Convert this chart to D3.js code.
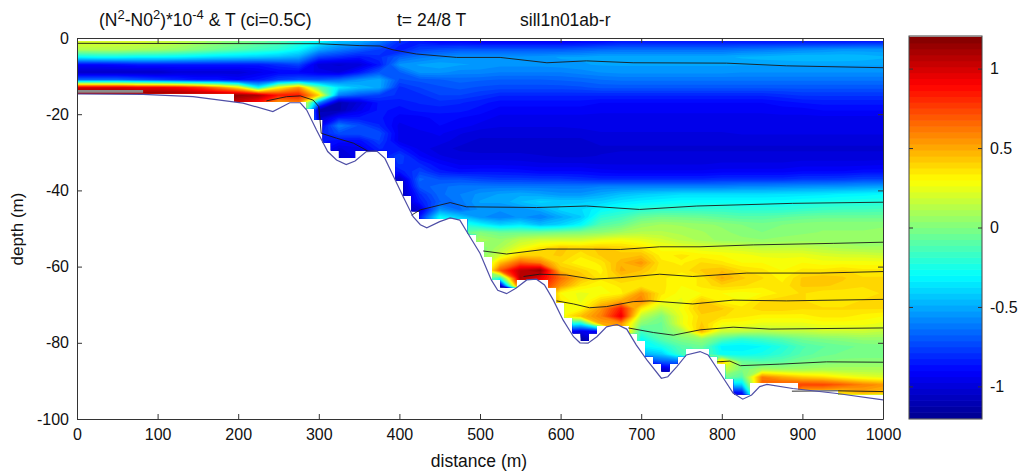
<!DOCTYPE html>
<html>
<head>
<meta charset="utf-8">
<script src="https://cdn.jsdelivr.net/npm/d3@7"></script>
<style>
  body { margin: 0; background: #fff; }
  text { font-family: "Liberation Sans", Arial, sans-serif; fill: #111; }
</style>
</head>
<body>
<svg id="chart" width="1023" height="476"></svg>
<script>
// Field values, one list per distance (every 25 m), depth 1, 3, 5 ... m downward
const distances = d3.range(0, 1001, 25);
const depths = d3.range(1, 97, 2);
const fieldColumns = [
  [.22,.12,-.3,-.9,-1.05,-.65,1,1.2],
  [.22,.12,-.28,-.9,-1.05,-.65,1,1.2],
  [.2,.12,-.28,-.88,-1.05,-.65,1,1.2],
  [.2,.1,-.3,-.85,-1.05,-.7,.95,1.2],
  [.18,.08,-.3,-.85,-1.05,-.75,.95,1.2],
  [.15,.05,-.32,-.85,-1,-.8,.9,1.18],
  [.1,0,-.35,-.85,-1,-.85,.8,1.15],
  [.05,-.05,-.38,-.85,-1,-.85,.6,1.15],
  [0,-.1,-.4,-.85,-1,-.9,.35,1.15,1],
  [-.05,-.15,-.42,-.85,-.95,-.85,-.3,1.1,.85],
  [-.1,-.2,-.45,-.8,-.9,-.75,.3,.85,.5],
  [-.2,-.3,-.5,-.75,-.9,-.7,.55,.85,.6],
  [-.3,-.5,-.75,-1,-.95,-.7,-.05,.4,-.6,-1.1,-1.05,-.95,-.85],
  [-.45,-.6,-.8,-1.02,-.98,-.65,-.35,-.6,-1.1,-1.1,-.85,-.6,-.72,-.88,-.98,-1.02],
  [-.5,-.68,-.85,-1,-.85,-.55,-.45,-.7,-1,-.95,-.85,-.72,-.72,-.88,-.95],
  [-.6,-.75,-.8,-.85,-.7,-.5,-.5,-.75,-.85,-.85,-.85,-.82,-.72,-.75,-.82,-.88],
  [-.8,-.85,-.68,-.55,-.68,-.72,-.8,-.8,-.85,-.88,-.92,-.95,-.95,-.95,-.85,-.75,-.78,-.85,-1.05,-1.1,-1.1],
  [-.85,-.75,-.62,-.52,-.55,-.7,-.75,-.8,-.82,-.85,-.92,-.92,-.95,-.95,-.95,-.9,-.82,-.75,-.66,-.7,-.8,-.85,-1,-.85,-.9],
  [-.9,-.72,-.58,-.5,-.55,-.68,-.72,-.75,-.8,-.85,-.88,-.9,-.93,-.95,-1,-.97,-.9,-.85,-.72,-.65,-.65,-.68,-.55,-.3],
  [-.9,-.7,-.55,-.52,-.58,-.66,-.7,-.75,-.82,-.85,-.9,-.92,-.97,-1,-1.02,-1,-.95,-.88,-.72,-.62,-.6,-.62,-.65,-.42,-.2,-.1],
  [-.92,-.7,-.55,-.53,-.58,-.67,-.72,-.78,-.85,-.88,-.92,-.95,-1,-1.02,-1.03,-1,-.95,-.87,-.75,-.62,-.55,-.52,-.55,-.55,-.3,0,.1,0],
  [-.92,-.7,-.55,-.55,-.6,-.68,-.73,-.82,-.88,-.92,-.95,-.97,-1,-1.02,-1.03,-1,-.95,-.87,-.77,-.62,-.52,-.52,-.55,-.6,-.4,-.05,.05,.1,.2,.45,.7,-.2,-1.1],
  [-.92,-.7,-.55,-.55,-.6,-.68,-.73,-.82,-.88,-.92,-.95,-.97,-1,-1.02,-1.03,-1,-.96,-.88,-.77,-.62,-.5,-.45,-.55,-.55,-.35,-.05,.15,.25,.4,.7,1.05,1.1,.9,-1.1],
  [-.92,-.7,-.54,-.55,-.6,-.68,-.73,-.82,-.88,-.92,-.95,-.97,-1,-1.02,-1.03,-1.01,-.97,-.9,-.78,-.62,-.52,-.4,-.5,-.6,-.45,-.05,.2,.35,.4,.6,1.15,.95,.85],
  [-.92,-.7,-.52,-.54,-.6,-.67,-.73,-.82,-.88,-.92,-.95,-.97,-1,-1.02,-1.03,-1.02,-.97,-.9,-.78,-.62,-.55,-.42,-.4,-.5,-.4,-.02,.2,.42,.42,.38,.45,.65,.55,.3,.35,.3,.3,-.2,-.85],
  [-.9,-.68,-.52,-.53,-.58,-.66,-.72,-.82,-.88,-.92,-.95,-.96,-1,-1.02,-1.03,-1.02,-.97,-.9,-.8,-.62,-.55,-.42,-.38,-.42,-.3,0,.2,.4,.35,.3,.4,.45,.35,.25,.25,.3,.45,-.3,-.95,-1.15],
  [-.88,-.66,-.5,-.52,-.56,-.64,-.7,-.82,-.9,-.93,-.95,-.95,-.98,-1,-1.02,-1.01,-.98,-.92,-.82,-.6,-.5,-.4,-.3,-.2,-.1,.03,.25,.42,.42,.35,.32,.35,.3,.28,.4,.55,.6,.5,-.9],
  [-.85,-.65,-.5,-.52,-.55,-.63,-.7,-.82,-.9,-.93,-.95,-.95,-.98,-1,-1.02,-1,-.98,-.93,-.82,-.6,-.45,-.35,-.25,-.15,-.05,.08,.28,.4,.42,.48,.5,.42,.35,.32,.5,.85,.95,.55],
  [-.85,-.65,-.5,-.52,-.55,-.63,-.7,-.82,-.9,-.93,-.95,-.95,-.98,-1,-1.02,-1,-.98,-.93,-.82,-.6,-.42,-.32,-.2,-.06,.05,.12,.25,.35,.45,.55,.45,.38,.35,.55,.6,.35,.15,.02,-.15,-.28,-.32,-.5,-.85,-.95],
  [-.85,-.65,-.5,-.52,-.55,-.63,-.7,-.82,-.9,-.93,-.95,-.95,-.98,-1,-1.02,-1,-.98,-.93,-.82,-.6,-.4,-.3,-.18,-.03,.08,.12,.2,.28,.32,.35,.35,.35,.35,.35,.3,.15,0,-.05,-.05,-.1,-.25,-.42,-.7,-1.05,-1.15],
  [-.85,-.65,-.5,-.52,-.55,-.63,-.7,-.82,-.9,-.93,-.95,-.95,-.98,-1,-1.02,-1,-.98,-.93,-.82,-.6,-.38,-.28,-.18,-.04,.07,.1,.14,.25,.35,.33,.35,.3,.3,.28,.25,.28,.25,.25,.1,0,-.1,-.15,-.65,-.9],
  [-.85,-.65,-.5,-.52,-.55,-.63,-.7,-.82,-.9,-.93,-.95,-.95,-.98,-1,-1.02,-1,-.98,-.93,-.82,-.6,-.38,-.28,-.18,-.05,.05,.08,.1,.22,.32,.38,.42,.35,.35,.3,.42,.45,.4,.42,.48,.05,-.05],
  [-.85,-.65,-.5,-.52,-.55,-.63,-.7,-.82,-.9,-.93,-.95,-.95,-.98,-1,-1.02,-1,-.97,-.92,-.8,-.6,-.38,-.28,-.18,-.08,.03,.05,.06,.2,.3,.35,.45,.5,.4,.3,.32,.42,.38,.28,.18,-.1,-.32,-.28,.45,.2,0,-.4,-.9],
  [-.85,-.63,-.48,-.52,-.56,-.63,-.7,-.82,-.9,-.93,-.95,-.95,-.97,-1,-1.02,-1,-.97,-.92,-.8,-.58,-.38,-.28,-.2,-.1,0,.02,.05,.18,.28,.3,.38,.42,.38,.28,.3,.35,.35,.28,.15,-.2,-.33,-.28,-.05,0,-.1,-.4,-.85,-1.1],
  [-.85,-.62,-.47,-.52,-.56,-.63,-.7,-.82,-.9,-.93,-.95,-.95,-.97,-1,-1.02,-1,-.97,-.92,-.8,-.58,-.38,-.28,-.2,-.1,-.02,0,.04,.15,.25,.3,.35,.38,.35,.3,.38,.4,.32,.25,.12,-.15,-.3,-.25,-.1,.1,.6,.7],
  [-.85,-.6,-.46,-.52,-.56,-.63,-.7,-.8,-.88,-.92,-.95,-.95,-.97,-1,-1.02,-1,-.97,-.92,-.8,-.57,-.37,-.28,-.2,-.08,0,.02,.05,.15,.25,.28,.3,.32,.35,.35,.4,.4,.32,.25,.15,-.1,-.22,-.18,-.08,.08,.5,.72],
  [-.85,-.58,-.45,-.52,-.56,-.63,-.7,-.78,-.86,-.92,-.95,-.95,-.97,-1,-1.02,-1,-.96,-.9,-.78,-.56,-.36,-.26,-.18,-.06,.02,.03,.06,.15,.25,.3,.35,.42,.42,.38,.38,.38,.32,.25,.15,-.03,-.12,-.1,-.02,.08,.42,.75,.45],
  [-.85,-.57,-.45,-.52,-.56,-.63,-.7,-.78,-.85,-.9,-.95,-.95,-.97,-1,-1.02,-1,-.96,-.9,-.78,-.55,-.35,-.25,-.16,-.05,.03,.04,.06,.12,.22,.28,.35,.45,.42,.35,.35,.38,.35,.28,.18,0,-.08,-.05,0,.1,.38,.75,.45],
  [-.85,-.55,-.45,-.52,-.56,-.63,-.7,-.78,-.85,-.9,-.95,-.95,-.97,-1,-1.02,-1,-.96,-.9,-.77,-.55,-.33,-.24,-.15,-.05,.03,.04,.05,.1,.2,.28,.38,.42,.4,.35,.35,.38,.35,.28,.18,.02,-.05,-.03,.02,.1,.3,.68,.4],
  [-.83,-.55,-.46,-.52,-.56,-.63,-.7,-.78,-.85,-.9,-.95,-.95,-.97,-1,-1.02,-1,-.96,-.88,-.75,-.53,-.32,-.23,-.15,-.05,.03,.04,.04,.08,.2,.28,.35,.38,.38,.35,.38,.38,.32,.28,.18,.05,-.03,-.02,.02,.1,.25,.6,.5,.2],
  [-.83,-.55,-.48,-.52,-.56,-.63,-.7,-.78,-.85,-.9,-.95,-.95,-.97,-1,-1.02,-1,-.95,-.88,-.75,-.52,-.3,-.23,-.14,-.05,.03,.05,.05,.08,.18,.28,.35,.38,.4,.38,.4,.38,.3,.25,.15,.05,-.02,-.02,.02,.1,.22,.55,.45,.1]
];

// Sea bed, distance and depth
const bedDistance = [0,82,144,206,243,264,277,285,297,311,322,334,345,359,372,382,392,405,417,426,434,450,463,475,485,500,514,522,533,545,558,570,580,591,603,616,624,634,645,657,670,682,694,707,725,733,744,756,773,783,798,814,826,837,847,856,888,943,1000];
const bedDepth = [14.7,14.8,15.4,17.1,19.3,17,17,18.9,24.1,29.8,32,33.2,32.3,29.8,29.7,31.6,36,41.8,46.9,49,49.8,48.2,47.2,47.8,51.3,56.5,63.5,66.2,67.1,65.6,63.5,63.3,64.8,68.8,74,78.4,80,80.1,78.4,75.8,75.2,76.4,80.6,84.5,89.3,88.9,86.3,83.2,82.3,83.2,88,93.2,94.8,93.7,91.5,90.9,92,93.3,95];

// Bottom faces of the model cells, and their edges in m
const cellFaces = [14.5,16.8,18.5,21.5,23.5,25.5,27.5,29.5,31.5,33.5,35.5,37.5,39.5,41.5,43.5,45.5,47.5,49.5,51.5,53.5,55.5,57.5,59.5,61.5,63.5,65.5,67.5,69.5,71.5,73.5,75.5,77.5,79.5,81.5,83.5,85.5,87.5,89.5,90.5,92.3,93.5,95.5];
const cellEdges = d3.range(-5, 1006, 10);
const shelfEnd = 283;
const shelfFace = 16.8;

// Isotherms as [distance, depth]
const isotherms = [
  [[0,1.4],[299,1.5],[351,2],[376,2.1],[392,3.1],[421,4.2],[471,5.1],[525,5.1],[583,6.5],[632,6],[690,6.5],[806,6.6],[880,7.3],[1000,7.8]],
  [[235,16.5],[260,15.4],[277,15.2],[293,16.3],[300,18],[303,25],[322,26.3],[343,27.6],[361,29.7],[372,29.7]],
  [[415,46.5],[426,45.1],[463,43.2],[483,44.3],[570,44.5],[632,44.1],[698,45],[769,44.1],[888,43.4],[1000,43.1]],
  [[504,55.9],[533,56.7],[583,55.4],[624,55.4],[674,55.5],[723,54.8],[773,54.8],[839,54.3],[939,53.9],[1000,53.6]],
  [[554,62.6],[574,62],[607,62.2],[640,63.3],[674,62.9],[723,62],[764,62.6],[831,61.7],[922,61.7],[1000,61.3]],
  [[595,69],[616,69.8],[636,70.8],[657,70.5],[690,69.2],[711,69],[764,69.8],[814,68.8],[880,69],[1000,68.6]],
  [[684,76.1],[715,77.3],[740,78],[773,76.6],[814,75.9],[860,76.4],[1000,76.1]],
  [[794,85],[810,84.8],[823,86],[872,85.6],[930,85],[1000,85.1]],
  [[887,92.7],[943,92.6],[1000,92.8]]
];
const shelfStrip = [[0,14],[82,14]];

const xTicks = d3.range(0, 1001, 100);
const yTicks = d3.range(0, -101, -20);
const barTicks = [-1, -0.5, 0, 0.5, 1];

const svg = d3.select('#chart');
const plot = { left: 77, right: 883, top: 38, bottom: 419 };
const bar = { left: 909, right: 982, top: 36, bottom: 419 };

const x = d3.scaleLinear().domain([0, 1000]).range([plot.left, plot.right]);
const y = d3.scaleLinear().domain([0, 100]).range([plot.top, plot.bottom]);
const yAxisScale = d3.scaleLinear().domain([0, -100]).range([plot.top, plot.bottom]);
const barY = d3.scaleLinear().domain([-1.205, 1.205]).range([bar.bottom, bar.top]);

// Jet colormap in 64 steps
const jet = d3.scaleLinear()
  .domain([0, 1 / 8, 3 / 8, 5 / 8, 7 / 8, 1])
  .range(['#00008f', '#0000ff', '#00ffff', '#ffff00', '#ff0000', '#800000'])
  .interpolate(d3.interpolateRgb);
const colorLevels = d3.range(64);
const levelValue = d3.scaleLinear().domain([0, 64]).range([-1.2, 1.2]);
const levelColor = i => jet((i + 0.5) / 64);

// Flatten to a full grid, below the bed each column keeps its last value
const gridValues = [];
depths.forEach((_, j) => {
  fieldColumns.forEach(col => {
    gridValues.push(j < col.length ? col[j] : col[col.length - 1]);
  });
});

const contours = d3.contours()
  .size([distances.length, depths.length])
  .smooth(true)
  .thresholds(colorLevels.map(levelValue))(gridValues);

// d3.contours puts grid point i at i + 0.5
const gridToPlot = d3.geoTransform({
  point(gx, gy) {
    this.stream.point(x((gx - 0.5) * 25), y(1 + (gy - 0.5) * 2));
  }
});
const contourPath = d3.geoPath(gridToPlot);

// Stepped outline of the cells that lie fully above the bed
const bedAt = d3.scaleLinear().domain(bedDistance).range(bedDepth).clamp(true);
const clipPoints = [[0, 0.8], [1000, 0.8]];
const floorSteps = d3.pairs(cellEdges).map(([a, b]) => {
  const shallow = Math.min(bedAt(a), bedAt(b)) + 0.2;
  const k = d3.bisectRight(cellFaces, shallow) - 1;
  const face = cellFaces[Math.max(k, 0)];
  return { a: Math.max(a, 0), b: Math.min(b, 1000), face: b <= shelfEnd ? Math.min(face, shelfFace) : face };
});
floorSteps.slice().reverse().forEach(s => {
  clipPoints.push([s.b, s.face], [s.a, s.face]);
});

const defs = svg.append('defs');
defs.append('clipPath').attr('id', 'field-clip')
  .append('polygon')
  .attr('points', clipPoints.map(p => [x(p[0]), y(p[1])].join(',')).join(' '));

const field = svg.append('g').attr('clip-path', 'url(#field-clip)');
field.selectAll('path')
  .data(contours)
  .join('path')
  .attr('d', contourPath)
  .attr('fill', (d, i) => levelColor(i));

// Lines on top of the field
const line = d3.line().x(d => x(d[0])).y(d => y(d[1]));

svg.append('path')
  .attr('d', line(shelfStrip))
  .attr('fill', 'none')
  .attr('stroke', '#8c8c8c')
  .attr('stroke-width', 2.6);

svg.append('g').selectAll('path')
  .data(isotherms)
  .join('path')
  .attr('d', line)
  .attr('fill', 'none')
  .attr('stroke', '#1a1a1a')
  .attr('stroke-width', 0.9);

svg.append('path')
  .attr('d', line(bedDistance.map((d, i) => [d, bedDepth[i]])))
  .attr('fill', 'none')
  .attr('stroke', '#4f4fa6')
  .attr('stroke-width', 1.2);

// Frame and axes
const tickSize = 5;
const plainNumber = d => String(d);
const axisGroups = [
  svg.append('g').attr('transform', `translate(0,${plot.bottom})`)
    .call(d3.axisBottom(x).tickValues(xTicks).tickFormat(plainNumber).tickSizeInner(-tickSize).tickSizeOuter(0).tickPadding(10)),
  svg.append('g').attr('transform', `translate(${plot.left},0)`)
    .call(d3.axisLeft(yAxisScale).tickValues(yTicks).tickFormat(plainNumber).tickSizeInner(-tickSize).tickSizeOuter(0).tickPadding(8)),
  svg.append('g').attr('transform', `translate(0,${plot.top})`)
    .call(d3.axisTop(x).tickValues(xTicks).tickFormat('').tickSizeInner(-tickSize).tickSizeOuter(0)),
  svg.append('g').attr('transform', `translate(${plot.right},0)`)
    .call(d3.axisRight(yAxisScale).tickValues(yTicks).tickFormat('').tickSizeInner(-tickSize).tickSizeOuter(0))
];
axisGroups.forEach(g => {
  g.selectAll('text').attr('font-size', 16).attr('font-family', null);
  g.selectAll('path,line').attr('stroke', '#333');
});

// Colour bar
svg.append('g').selectAll('rect')
  .data(colorLevels)
  .join('rect')
  .attr('x', bar.left)
  .attr('width', bar.right - bar.left)
  .attr('y', d => barY(levelValue(d + 1)))
  .attr('height', d => barY(levelValue(d)) - barY(levelValue(d + 1)) + 0.6)
  .attr('fill', levelColor);

svg.append('rect')
  .attr('x', bar.left).attr('y', bar.top)
  .attr('width', bar.right - bar.left).attr('height', bar.bottom - bar.top)
  .attr('fill', 'none').attr('stroke', '#444');

const barAxis = svg.append('g').attr('transform', `translate(${bar.right},0)`)
  .call(d3.axisRight(barY).tickValues(barTicks).tickFormat(plainNumber).tickSizeInner(-4).tickSizeOuter(0).tickPadding(8));
barAxis.select('.domain').remove();
barAxis.selectAll('text').attr('font-size', 16).attr('font-family', null);
barAxis.selectAll('line').attr('stroke', '#333');
svg.append('g').attr('transform', `translate(${bar.left},0)`)
  .call(d3.axisLeft(barY).tickValues(barTicks).tickFormat('').tickSizeInner(-4).tickSizeOuter(0))
  .call(g => g.select('.domain').remove())
  .selectAll('line').attr('stroke', '#333');

// Labels
svg.append('text').attr('x', 479).attr('y', 467).attr('text-anchor', 'middle').attr('font-size', 17.5).text('distance (m)');
svg.append('text').attr('transform', 'translate(23,229) rotate(-90)').attr('text-anchor', 'middle').attr('font-size', 17).text('depth (m)');

const title = svg.append('text').attr('x', 99).attr('y', 26).attr('font-size', 17.5);
title.append('tspan').text('(N');
title.append('tspan').attr('dy', -7).attr('font-size', 13).text('2');
title.append('tspan').attr('dy', 7).text('-N0');
title.append('tspan').attr('dy', -7).attr('font-size', 13).text('2');
title.append('tspan').attr('dy', 7).text(')*10');
title.append('tspan').attr('dy', -7).attr('font-size', 13).text('-4');
title.append('tspan').attr('dy', 7).text(' & T (ci=0.5C)');

svg.append('text').attr('x', 397).attr('y', 26).attr('font-size', 17.5).text('t= 24/8 T');
svg.append('text').attr('x', 520).attr('y', 26).attr('font-size', 17.5).text('sill1n01ab-r');
</script>
</body>
</html>
